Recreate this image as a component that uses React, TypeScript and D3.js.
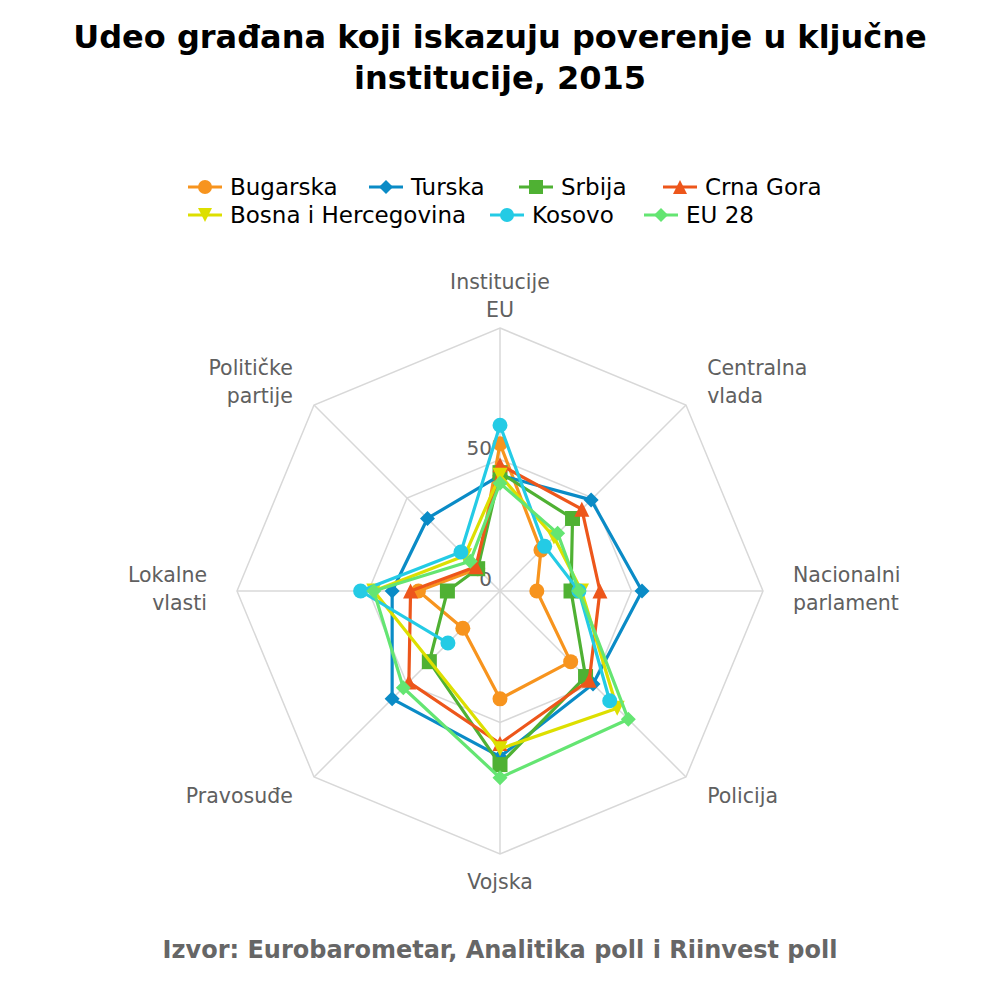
import React from 'react'
import * as d3 from 'd3'

const categories = [
  'Institucije EU',
  'Centralna vlada',
  'Nacionalni parlament',
  'Policija',
  'Vojska',
  'Pravosuđe',
  'Lokalne vlasti',
  'Političke partije',
]

const seriesNames = ['Bugarska', 'Turska', 'Srbija', 'Crna Gora', 'Bosna i Hercegovina', 'Kosovo', 'EU 28']
const seriesColors = ['#f7941e', '#0a8bc6', '#4fb133', '#ed561b', '#dddf00', '#24cbe5', '#64e572']
const seriesSymbols = ['circle', 'diamond', 'square', 'triangle', 'triangle-down', 'circle', 'diamond']

const bugarska = [56, 22, 14, 38, 41, 20, 31, 12]
const turska = [44, 49, 54, 50, 63, 58, 41, 39]
const srbija = [45, 39, 27, 46, 66, 38, 20, 12]
const crnaGora = [48, 44, 38, 48, 58, 49, 34, 13]
const bih = [44, 29, 31, 63, 60, null, 48, 19]
const kosovo = [63, 24, 30, 59, null, 28, 53, 21]
const eu28 = [41, 31, 30, 69, 71, 52, 48, 16]

const seriesValues: (number | null)[][] = [bugarska, turska, srbija, crnaGora, bih, kosovo, eu28]
// series whose missing points are bridged by the line
const connectGaps = ['Bosna i Hercegovina']

const gridTicks = [0, 50, 100]
const tickLabels = ['0', '50']

const title = ['Udeo građana koji iskazuju poverenje u ključne', 'institucije, 2015']
const source = 'Izvor: Eurobarometar, Analitika poll i Riinvest poll'

// legend layout (two rows)
const legendRows = [[0, 1, 2, 3], [4, 5, 6]]
const legendX = [[188, 369, 519, 663], [188, 490, 644]]
const legendY = [187, 215]

const FONT = "'DejaVu Sans', sans-serif"

function markerPath(type: string, x: number, y: number, r: number) {
  switch (type) {
    case 'circle':
      return `M${x - r},${y}a${r},${r} 0 1,0 ${2 * r},0a${r},${r} 0 1,0 ${-2 * r},0Z`
    case 'square':
      return `M${x - r},${y - r}h${2 * r}v${2 * r}h${-2 * r}Z`
    case 'diamond':
      return `M${x},${y - r}L${x + r},${y}L${x},${y + r}L${x - r},${y}Z`
    case 'triangle':
      return `M${x},${y - r}L${x + r},${y + r}L${x - r},${y + r}Z`
    case 'triangle-down':
      return `M${x - r},${y - r}L${x + r},${y - r}L${x},${y + r}Z`
    default:
      return ''
  }
}

export default function App() {
  const cx = 500
  const cy = 591
  const R = 263
  const n = categories.length

  const rScale = d3.scaleLinear().domain([0, 100]).range([0, R])
  const angle = (i: number) => (i * 2 * Math.PI) / n
  const pos = (i: number, v: number): [number, number] => {
    const a = angle(i)
    return [cx + rScale(v) * Math.sin(a), cy - rScale(v) * Math.cos(a)]
  }

  const ringLine = d3
    .lineRadial<number>()
    .angle((_, i) => angle(i))
    .radius((d) => rScale(d))
    .curve(d3.curveLinearClosed)

  type Pt = { i: number; v: number | null }
  const seriesLine = d3
    .lineRadial<Pt>()
    .defined((d) => d.v != null)
    .angle((d) => angle(d.i))
    .radius((d) => rScale(d.v as number))

  return (
    <svg
      width={1000}
      height={1000}
      style={{ position: 'absolute', left: 0, top: 0, background: '#fff' }}
      fontFamily={FONT}
    >
      {/* title */}
      {title.map((t, k) => (
        <text
          key={k}
          x={500}
          y={37 + k * 41}
          dy="0.35em"
          textAnchor="middle"
          fontSize={32}
          fontWeight="bold"
          fill="#000"
        >
          {t}
        </text>
      ))}

      {/* legend */}
      {legendRows.map((row, r) =>
        row.map((s, k) => {
          const x0 = legendX[r][k]
          const y0 = legendY[r]
          return (
            <g key={s}>
              <line x1={x0} x2={x0 + 34} y1={y0} y2={y0} stroke={seriesColors[s]} strokeWidth={3} />
              <path d={markerPath(seriesSymbols[s], x0 + 17, y0, 7)} fill={seriesColors[s]} />
              <text x={x0 + 42} y={y0} dy="0.35em" fontSize={23} fill="#000">
                {seriesNames[s]}
              </text>
            </g>
          )
        })
      )}

      {/* grid */}
      <g transform={`translate(${cx},${cy})`}>
        {gridTicks.slice(1).map((t) => (
          <path
            key={t}
            d={ringLine(d3.range(n).map(() => t)) as string}
            fill="none"
            stroke="#d8d8d8"
            strokeWidth={1.5}
          />
        ))}
      </g>
      {categories.map((c, i) => {
        const [x2, y2] = pos(i, 100)
        return <line key={c} x1={cx} y1={cy} x2={x2} y2={y2} stroke="#d8d8d8" strokeWidth={1.5} />
      })}

      {/* axis labels */}
      {categories.map((c, i) => {
        const a = angle(i)
        const lr = R + 30
        const x = cx + lr * Math.sin(a)
        const y = cy - lr * Math.cos(a) - 2
        const s = Math.sin(a)
        const anchor = s > 0.1 ? 'start' : s < -0.1 ? 'end' : 'middle'
        const lines = c.split(' ')
        return (
          <text key={c} x={x} textAnchor={anchor} fontSize={20.5} fill="#606060">
            {lines.map((l, k) => (
              <tspan key={k} x={x} y={y + (k - (lines.length - 1) / 2) * 28.5} dy="0.35em">
                {l}
              </tspan>
            ))}
          </text>
        )
      })}

      {/* radial tick labels */}
      {tickLabels.map((t) => (
        <text
          key={t}
          x={cx - 8}
          y={cy - rScale(+t) - 12}
          dy="0.35em"
          textAnchor="end"
          fontSize={20}
          fill="#606060"
        >
          {t}
        </text>
      ))}

      {/* series */}
      {seriesValues.map((vals, s) => {
        let pts: Pt[] = vals.map((v, i) => ({ i, v }))
        if (connectGaps.includes(seriesNames[s])) pts = pts.filter((d) => d.v != null)
        const closed = [...pts, { i: n, v: pts[0].v }]
        return (
          <g key={seriesNames[s]}>
            <path
              transform={`translate(${cx},${cy})`}
              d={seriesLine(closed) as string}
              fill="none"
              stroke={seriesColors[s]}
              strokeWidth={3.2}
              strokeLinejoin="round"
            />
            {vals.map((v, i) => {
              if (v == null) return null
              const [x, y] = pos(i, v)
              return <path key={i} d={markerPath(seriesSymbols[s], x, y, 7.5)} fill={seriesColors[s]} />
            })}
          </g>
        )
      })}

      {/* source */}
      <text x={500} y={950} dy="0.35em" textAnchor="middle" fontSize={24} fontWeight="bold" fill="#666">
        {source}
      </text>
    </svg>
  )
}
